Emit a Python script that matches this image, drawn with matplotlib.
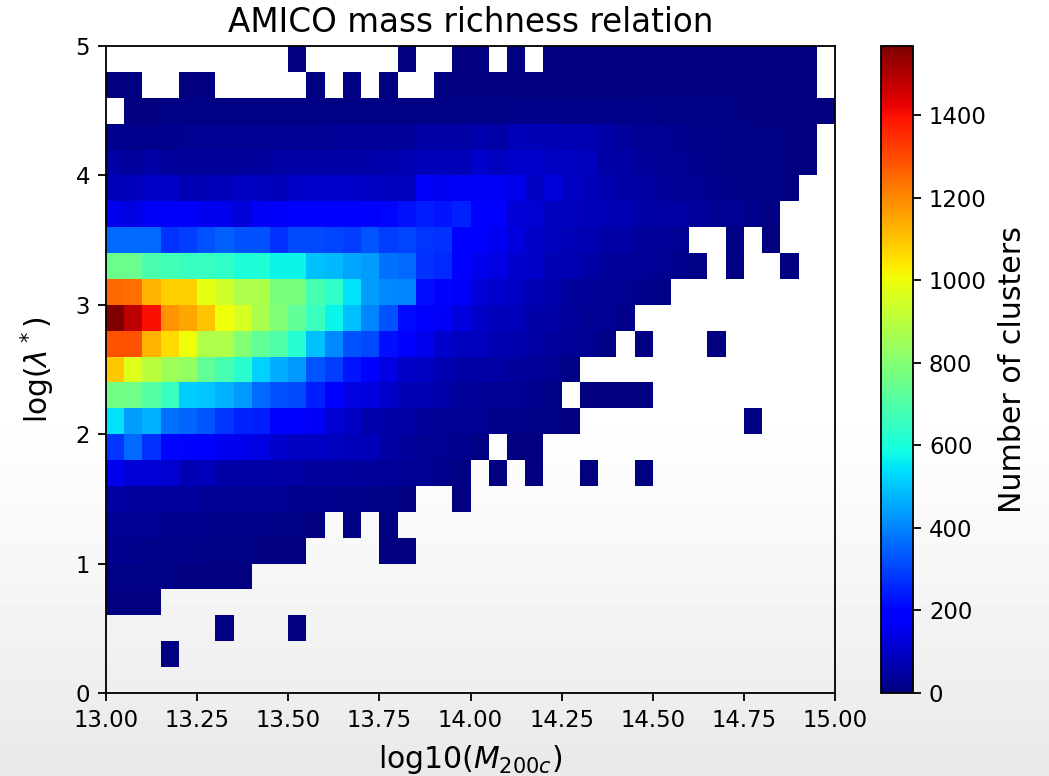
import numpy as np
import matplotlib
matplotlib.use('Agg')
import matplotlib.pyplot as plt

n = np.nan

# counts per cell, one list per log(lambda*) bin, top row first, 40 mass bins each
row_480 = [n,n,n,n,n,n,n,n,n,n, 2,n,n,n,n,n, 1,n,n, 2, 1,n, 1,n, 2,2,3,3,3,4,4,3,3,3,3,2,2,2,1,n]
row_460 = [1,2,n,n,1,1,n,n,n,n,n, 1,n, 1,n, 2,n,n, 3,3, 3,3,3,4,4,5,5,6,6,5,5,5,4,4,4,3,3,2,2,n]
row_440 = [n,6,6,7,7,8,8,8,9,9,9,9,8,9,8,9,10,10,11,11, 12,12,14,15,18,18,18,18,16,15,12,10,9,8,7,6,5,4,3,2]
row_420 = [20,20,22,24,26,28,28,28,28,28,30,30,32,32,36,38,40,50,55,55, 65,55,80,75,75,70,70,60,40,30,25,22,18,15,12,10,8,6,3,n]
row_400 = [55,40,50,40,40,38,38,38,40,55,55,55,58,60,60,65,70,85,80,75, 110,90,105,105,95,95,90,60,50,40,30,25,20,15,12,10,8,5,2,n]
row_380 = [85,85,100,100,70,75,85,95,90,80,100,110,105,100,95,90,90,170,155,160, 170,165,150,95,125,95,80,70,60,50,40,30,25,20,15,10,8,5,n,n]
row_360 = [150,140,165,170,170,155,150,125,165,170,180,190,190,190,185,205,225,240,230,250, 190,190,120,115,90,90,85,75,70,60,55,50,40,30,25,20,12,n,n,n]
row_340 = [360,360,360,270,290,320,345,320,320,270,310,310,305,290,330,290,305,280,270,190, 180,155,130,100,90,75,70,55,50,40,35,30,n,n,12,n,5,n,n,n]
row_320 = [750,750,690,670,660,650,640,610,610,570,570,490,480,450,440,370,360,270,260,185, 150,140,105,100,75,70,60,40,40,35,25,20,12,n,6,n,n,3,n,n]
row_300 = [1250,1240,1130,1080,1080,980,940,880,880,780,780,680,640,540,440,410,400,220,200,170, 120,110,95,70,65,40,35,30,25,20,12,n,n,n,n,n,n,n,n,n]
row_280 = [1567,1480,1400,1180,1150,1100,1000,960,870,790,730,660,570,490,400,320,210,180,165,130, 100,85,80,60,50,40,30,25,15,n,n,n,n,n,n,n,n,n,n,n]
row_260 = [1290,1290,1130,1060,1000,880,880,800,730,700,620,490,410,320,310,220,190,150,110,90, 90,70,65,50,45,35,25,10,n,2,n,n,n,1,n,n,n,n,n,n]
row_240 = [1090,970,900,850,830,730,680,630,520,460,430,330,290,230,190,140,100,95,70,60, 55,50,40,35,25,12,n,n,n,n,n,n,n,n,n,n,n,n,n,n]
row_220 = [770,760,710,650,510,500,470,430,360,320,310,240,190,140,130,100,75,70,60,40, 35,30,25,20,12,n,6,3,2,1,n,n,n,n,n,n,n,n,n,n]
row_200 = [540,440,470,370,350,330,280,250,240,190,175,165,115,95,65,60,50,40,30,30, 25,20,15,10,8,4,n,n,n,n,n,n,n,n,n,1,n,n,n,n]
row_180 = [280,360,270,205,200,185,155,150,140,105,95,95,90,85,80,50,40,30,25,20, 12,n,5,3,n,n,n,n,n,n,n,n,n,n,n,n,n,n,n,n]
row_160 = [150,120,120,115,70,80,60,58,56,55,50,48,45,42,40,35,30,25,20,12, n,2,n,2,n,n,1,n,n,1,n,n,n,n,n,n,n,n,n,n]
row_140 = [50,48,46,42,45,28,32,30,28,26,24,22,20,18,14,10,6,n,n,2, n,n,n,n,n,n,n,n,n,n,n,n,n,n,n,n,n,n,n,n]
row_120 = [30,28,26,24,22,20,18,16,14,12,10,6,n,2,n,2,n,n,n,n, n,n,n,n,n,n,n,n,n,n,n,n,n,n,n,n,n,n,n,n]
row_100 = [20,20,16,16,14,12,10,8,6,4,2,n,n,n,n,2,1,n,n,n, n,n,n,n,n,n,n,n,n,n,n,n,n,n,n,n,n,n,n,n]
row_080 = [12,12,10,8,6,4,2,1,n,n,n,n,n,n,n,n,n,n,n,n, n,n,n,n,n,n,n,n,n,n,n,n,n,n,n,n,n,n,n,n]
row_060 = [4,3,1,n,n,n,n,n,n,n,n,n,n,n,n,n,n,n,n,n, n,n,n,n,n,n,n,n,n,n,n,n,n,n,n,n,n,n,n,n]
row_040 = [n,n,n,n,n,n,1,n,n,n,1,n,n,n,n,n,n,n,n,n, n,n,n,n,n,n,n,n,n,n,n,n,n,n,n,n,n,n,n,n]
row_020 = [n,n,n,1,n,n,n,n,n,n,n,n,n,n,n,n,n,n,n,n, n,n,n,n,n,n,n,n,n,n,n,n,n,n,n,n,n,n,n,n]
row_000 = [n,n,n,n,n,n,n,n,n,n,n,n,n,n,n,n,n,n,n,n, n,n,n,n,n,n,n,n,n,n,n,n,n,n,n,n,n,n,n,n]

rows_top_down = [row_480, row_460, row_440, row_420, row_400, row_380, row_360, row_340,
                 row_320, row_300, row_280, row_260, row_240, row_220, row_200, row_180,
                 row_160, row_140, row_120, row_100, row_080, row_060, row_040, row_020, row_000]

x_ticks = [13.00, 13.25, 13.50, 13.75, 14.00, 14.25, 14.50, 14.75, 15.00]
y_ticks = [0, 1, 2, 3, 4, 5]
cbar_ticks = [0, 200, 400, 600, 800, 1000, 1200, 1400]

W, H = 1049, 776
counts = np.array(rows_top_down[::-1], dtype=float)
x_edges = np.linspace(13, 15, 41)
y_edges = np.linspace(0, 5, 26)

fig = plt.figure(figsize=(W / 164, H / 164), dpi=164)

# page fades from white to light grey towards the bottom
bg = fig.add_axes([0, 0, 1, 1], zorder=-1)
fade = np.clip((np.arange(H) - 400) / (H - 400), 0, 1)
bg.imshow((1 - 0.09 * fade ** 1.2).reshape(-1, 1), cmap='gray', vmin=0, vmax=1, aspect='auto')
bg.axis('off')

ax = fig.add_axes([106 / W, 1 - 693 / H, 729 / W, 647 / H])
ax.patch.set_alpha(0)
mesh = ax.pcolormesh(x_edges, y_edges, np.ma.masked_invalid(counts), cmap='jet', vmin=0, vmax=1567)
ax.set_xlim(13, 15)
ax.set_ylim(0, 5)
ax.set_xticks(x_ticks)
ax.set_xticklabels(['%.2f' % t for t in x_ticks])
ax.set_yticks(y_ticks)
ax.set_title('AMICO mass richness relation', fontsize=14.3, pad=6)
ax.set_xlabel(r'log10($M_{200c}$)', fontsize=13.1, labelpad=5)
ax.set_ylabel(r'log($\lambda^*$)', fontsize=13, labelpad=8)

cax = fig.add_axes([881 / W, 1 - 693 / H, 32 / W, 647 / H])
cb = fig.colorbar(mesh, cax=cax)
cb.set_ticks(cbar_ticks)
cb.set_label('Number of clusters', fontsize=13.2, labelpad=5)

fig.savefig('out.png', dpi=164)
